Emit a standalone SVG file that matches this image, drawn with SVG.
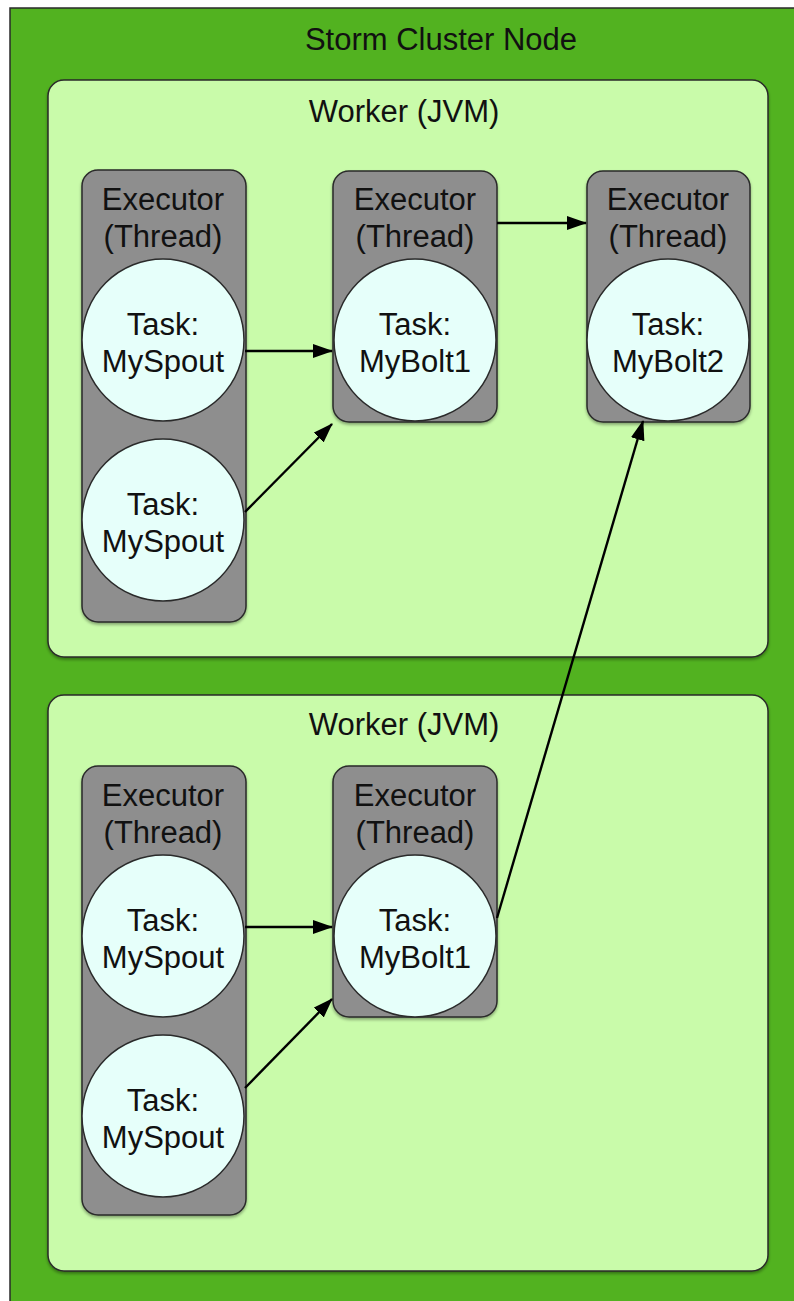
<svg xmlns="http://www.w3.org/2000/svg" width="794" height="1301" viewBox="0 0 794 1301">
<style>
.lbl{font-family:"Liberation Sans",Arial,sans-serif;font-size:31px;fill:#111;text-anchor:middle}
.worker{fill:#c9fbaa;stroke:#2a2a2a;stroke-width:1.5}
.exec{fill:#8e8e8e;stroke:#2a2a2a;stroke-width:1.5}
.task{fill:#e6fffa;stroke:#2a2a2a;stroke-width:1.5}
.conn{stroke:#000;stroke-width:2.4;fill:none;marker-end:url(#arr)}
</style>
<defs>
<marker id="arr" viewBox="0 0 20 14" refX="19" refY="7" markerWidth="20" markerHeight="14" markerUnits="userSpaceOnUse" orient="auto">
<path d="M0,0 L20,7 L0,14 z" fill="#000"/>
</marker>
<filter id="sh" x="-10%" y="-10%" width="120%" height="120%">
<feDropShadow dx="0" dy="2" stdDeviation="1.5" flood-color="#000" flood-opacity="0.35"/>
</filter>
</defs>
<rect width="794" height="1301" fill="#ffffff"/>
<g id="cluster">
<rect x="10" y="8" width="800" height="1310" fill="#52b220" stroke="#2a2a2a" stroke-width="1.5"/>
<text class="lbl" x="441" y="50">Storm Cluster Node</text>
</g>
<g id="worker1">
<rect class="worker" x="48" y="80" width="720" height="577" rx="16" filter="url(#sh)"/>
<text class="lbl" x="404" y="122">Worker (JVM)</text>
</g>
<g id="worker2">
<rect class="worker" x="48" y="695" width="720" height="576" rx="16" filter="url(#sh)"/>
<text class="lbl" x="404" y="735">Worker (JVM)</text>
</g>
<g id="exec1">
<rect class="exec" x="82" y="170" width="164" height="452" rx="16" filter="url(#sh)"/>
<text class="lbl" x="163" y="210">Executor</text>
<text class="lbl" x="163" y="247">(Thread)</text>
</g>
<g id="task1">
<circle class="task" cx="163" cy="340" r="81"/>
<text class="lbl" x="163" y="335">Task:</text>
<text class="lbl" x="163" y="372">MySpout</text>
</g>
<g id="task2">
<circle class="task" cx="163" cy="520" r="81"/>
<text class="lbl" x="163" y="515">Task:</text>
<text class="lbl" x="163" y="552">MySpout</text>
</g>
<g id="exec2">
<rect class="exec" x="333" y="171" width="164" height="251" rx="16" filter="url(#sh)"/>
<text class="lbl" x="415" y="210">Executor</text>
<text class="lbl" x="415" y="247">(Thread)</text>
</g>
<g id="task3">
<circle class="task" cx="415" cy="340" r="81"/>
<text class="lbl" x="415" y="335">Task:</text>
<text class="lbl" x="415" y="372">MyBolt1</text>
</g>
<g id="exec3">
<rect class="exec" x="587" y="171" width="163" height="251" rx="16" filter="url(#sh)"/>
<text class="lbl" x="668" y="210">Executor</text>
<text class="lbl" x="668" y="247">(Thread)</text>
</g>
<g id="task4">
<circle class="task" cx="668" cy="340" r="81"/>
<text class="lbl" x="668" y="335">Task:</text>
<text class="lbl" x="668" y="372">MyBolt2</text>
</g>
<g id="exec4">
<rect class="exec" x="82" y="766" width="164" height="449" rx="16" filter="url(#sh)"/>
<text class="lbl" x="163" y="806">Executor</text>
<text class="lbl" x="163" y="843">(Thread)</text>
</g>
<g id="task5">
<circle class="task" cx="163" cy="936" r="81"/>
<text class="lbl" x="163" y="931">Task:</text>
<text class="lbl" x="163" y="968">MySpout</text>
</g>
<g id="task6">
<circle class="task" cx="163" cy="1116" r="81"/>
<text class="lbl" x="163" y="1111">Task:</text>
<text class="lbl" x="163" y="1148">MySpout</text>
</g>
<g id="exec5">
<rect class="exec" x="333" y="766" width="164" height="251" rx="16" filter="url(#sh)"/>
<text class="lbl" x="415" y="806">Executor</text>
<text class="lbl" x="415" y="843">(Thread)</text>
</g>
<g id="task7">
<circle class="task" cx="415" cy="936" r="81"/>
<text class="lbl" x="415" y="931">Task:</text>
<text class="lbl" x="415" y="968">MyBolt1</text>
</g>
<g id="connectors">
<line class="conn" x1="245" y1="351" x2="332" y2="351"/>
<line class="conn" x1="245" y1="512" x2="332" y2="424"/>
<line class="conn" x1="497" y1="223" x2="586" y2="223"/>
<line class="conn" x1="497" y1="918" x2="643" y2="421"/>
<line class="conn" x1="245" y1="927" x2="332" y2="927"/>
<line class="conn" x1="245" y1="1088" x2="332" y2="999"/>
</g>
</svg>
